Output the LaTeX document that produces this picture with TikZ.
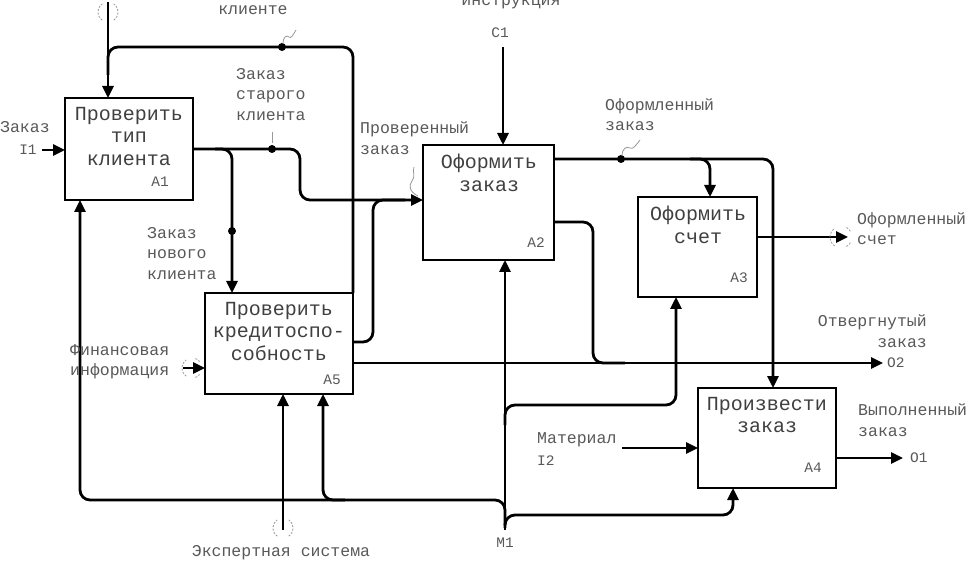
\documentclass[tikz,border=0pt]{standalone}
\usepackage{fontspec}
\newfontfamily\mono{Liberation Mono}
\usetikzlibrary{arrows.meta}
\begin{document}
\begin{tikzpicture}[x=1pt,y=-1pt]
\tikzset{
 ln/.style={line width=2.8pt, rounded corners=10pt},
 arr/.style={ln, -{Triangle[length=12pt,width=11pt]}},
 box/.style={draw, line width=2.8pt, inner sep=0pt, outer sep=0pt},
 ttl/.style={font=\mono\fontsize{20}{22.5}\selectfont, text=black!75, align=center, anchor=north, inner sep=0pt},
 lbl/.style={font=\mono\fontsize{16.5}{20.5}\selectfont, text=black!65, inner sep=0pt},
 code/.style={font=\mono\fontsize{14.5}{17}\selectfont, text=black!65, inner sep=0pt},
 dot/.style={circle, fill=black, minimum size=8pt, inner sep=0pt},
 squig/.style={draw=black!40, line width=0.8pt},
 tun/.style={draw=black!40, line width=0.8pt, dash pattern=on 2pt off 1.5pt},
}
\useasboundingbox (0,0) rectangle (969,561);
\fill[white] (0,0) rectangle (969,561);

% boxes
\node[box, minimum width=128pt, minimum height=102pt] (A1) at (129,149) {};
\node[box, minimum width=148pt, minimum height=101pt] (A5) at (279,343.5) {};
\node[box, minimum width=131pt, minimum height=115pt] (A2) at (488.5,202.5) {};
\node[box, minimum width=119pt, minimum height=100pt] (A3) at (697.5,247) {};
\node[box, minimum width=138pt, minimum height=100pt] (A4) at (767,438) {};

% titles
\node[ttl] (A1t) at (129,107) {Проверить\\тип\\клиента};
\node[ttl] (A5t) at (279,302) {Проверить\\кредитоспо-\\собность};
\node[ttl] (A2t) at (489,154) {Оформить\\заказ};
\node[ttl] (A3t) at (698,206) {Оформить\\счет};
\node[ttl] (A4t) at (767,397) {Произвести\\заказ};
\node[code] (A1c) at (160,182) {A1};
\node[code] (A5c) at (332,380) {A5};
\node[code] (A2c) at (536,243) {A2};
\node[code] (A3c) at (739,278) {A3};
\node[code] (A4c) at (813,468) {A4};

% coordinates
\coordinate (i1s) at (42,150);
\coordinate (c1top) at (108,2);
\coordinate (cs) at (503,47);
\coordinate (o2) at (883,363);
\coordinate (o1) at (903,458);
\coordinate (o3) at (848,237);
\coordinate (fin) at (183,368);
\coordinate (exp) at (283,530);
\coordinate (m1) at (505,530);
\coordinate (i2) at (622,448);
\coordinate (jA) at (232,149);
\coordinate (jB) at (300,149);
\coordinate (x80) at (80,500);
\coordinate (x323) at (323,500);
\coordinate (x676) at (676,405);
\coordinate (x733) at (733,515);
\coordinate (x710) at (710,159);
\coordinate (x773) at (773,159);

% I1 input
\draw[arr] (i1s) -- (A1.west |- i1s);
% control of A1 and loop from A5
\draw[arr] (c1top) -- (A1.north -| c1top);
\draw[ln] (A5.north east) -- (353,47) -- (108,47) -- (108,75);
\node[dot] (d1) at (282,47) {};
% A1 output to A2 and branch to A5
\draw[arr] (A1.east |- jB) -- (jB) -- (300,200) -- (A2.west |- 0,200);
\node[dot] (d2) at (272,149) {};
\draw[arr] (215,149) -- (jA) -- (A5.north -| jA);
\node[dot] (d3) at (232,231) {};
% A5 second output joins
\draw[ln] (A5.east |- 0,342) -- (373,342) -- (373,200) -- (405,200);
% A5 output to O2
\draw[arr] (A5.east |- o2) -- (o2);
% A2 second output joins O2
\draw[ln] (A2.east |- 0,222) -- (593,222) -- (593,363) -- (625,363);
% C1
\draw[arr] (cs) -- (A2.north -| cs);
% A2 output to A3 and A4
\draw[arr] (A2.east |- x773) -- (x773) -- (A4.north -| x773);
\draw[arr] (690,159) -- (x710) -- (A3.north -| x710);
\node[dot] (d4) at (621,159) {};
% A3 output
\draw[arr] (A3.east |- o3) -- (o3);
% financial info
\draw[arr] (fin) -- (A5.west |- fin);
% expert system
\draw[arr] (exp) -- (A5.south -| exp);
% M1 mechanisms
\draw[arr] (m1) -- (A2.south -| m1);
\draw[arr] (505,525) -- (505,500) -- (x80) -- (A1.south -| x80);
\draw[arr] (345,500) -- (x323) -- (A5.south -| x323);
\draw[arr] (505,425) -- (505,405) -- (x676) -- (A3.south -| x676);
\draw[arr] (505,528) -- (505,515) -- (x733) -- (A4.south -| x733);
% I2
\draw[arr] (i2) -- (A4.west |- i2);
% A4 output
\draw[arr] (A4.east |- o1) -- (o1);

% tunnels
\draw[tun] (108,12) ++(125:10) arc (125:235:10);
\draw[tun] (108,12) ++(55:10) arc (55:-55:10);
\draw[tun] (192,368) ++(125:10) arc (125:235:10);
\draw[tun] (192,368) ++(70:10) arc (70:40:10);
\draw[tun] (192,368) ++(-70:10) arc (-70:-40:10);
\draw[tun] (841,237) ++(125:11) arc (125:235:11);
\draw[tun] (841,237) ++(60:11) arc (60:30:11);
\draw[tun] (841,237) ++(-60:11) arc (-60:-30:11);
\draw[tun] (283,528) ++(125:10) arc (125:235:10);
\draw[tun] (283,528) ++(55:10) arc (55:-55:10);

% squiggles
\draw[squig] (283,44) .. controls (283,36) and (287,35) .. (289,37) .. controls (291,39) and (293,35) .. (296,30);
\draw[squig] (272,143) -- (272,132);
\draw[squig] (622,156) .. controls (622,148) and (627,146) .. (630,148) .. controls (633,150) and (636,145) .. (640,140);
\draw[squig] (418,196) .. controls (410,192) and (408,186) .. (412,181) .. controls (416,176) and (412,172) .. (414,167);

% labels
\node[lbl] (lk) at (253,10) {клиенте};
\node[lbl, align=left, anchor=north west] (lso) at (236,68) {Заказ\\старого\\клиента};
\node[lbl, align=left, anchor=north west] (lno) at (147,227) {Заказ\\нового\\клиента};
\node[lbl, align=left, anchor=north west] (lpz) at (360,122) {Проверенный\\заказ};
\node[lbl, align=left, anchor=north west] (loz) at (605,98) {Оформленный\\заказ};
\node[lbl, align=left, anchor=north west] (los) at (857,212) {Оформленный\\счет};
\node[lbl, align=right, anchor=north east] (lot) at (927,315) {Отвергнутый\\заказ};
\node[lbl, align=left, anchor=north west] (lfi) at (70,344) {Финансовая\\информация};
\node[lbl, align=left, anchor=north west] (lvz) at (858,404) {Выполненный\\заказ};
\node[lbl, anchor=west] (lma) at (537,440) {Материал};
\node[code, anchor=west] (li2) at (537,461) {I2};
\node[lbl] (lex) at (281,553) {Экспертная система};
\node[lbl] (lin) at (511,3) {инструкция};
\node[lbl, anchor=west] (lza) at (0,127) {Заказ};
\node[code] (li1) at (28,150) {I1};
\node[code] (lc1) at (500,33) {C1};
\node[code] (lm1) at (505,543) {M1};
\node[code, anchor=west] (lo2) at (887,363) {O2};
\node[code, anchor=west] (lo1) at (910,458) {O1};
\end{tikzpicture}
\end{document}
